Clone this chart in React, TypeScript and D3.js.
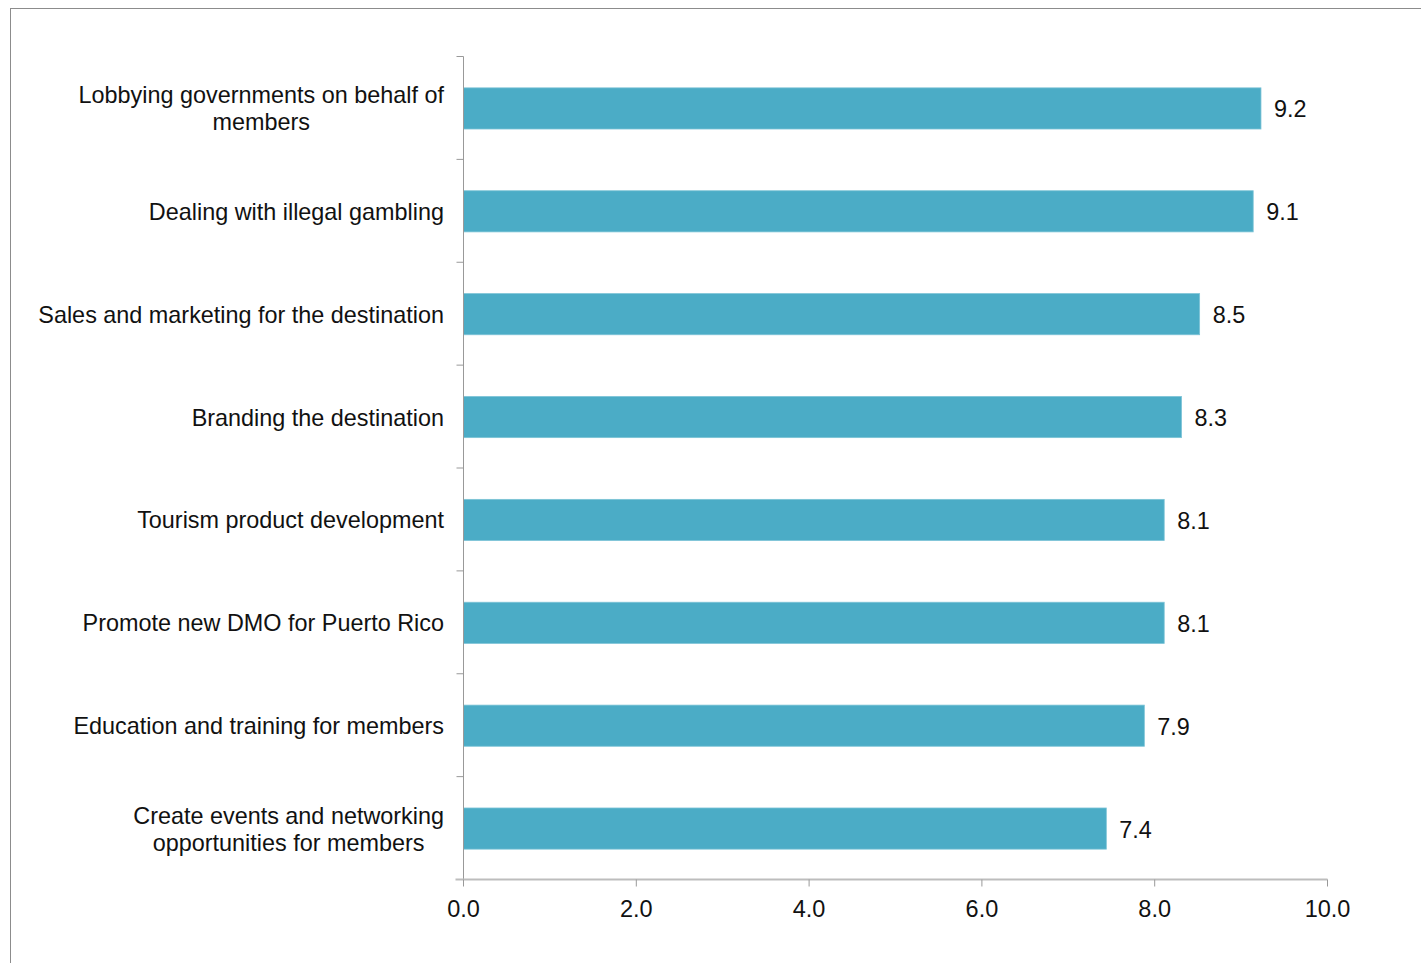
import React, { useEffect, useRef } from "react";
import * as d3 from "d3";

const categories: string[][] = [
  ["Lobbying governments on behalf of", "members"],
  ["Dealing with illegal gambling"],
  ["Sales and marketing for the destination"],
  ["Branding the destination"],
  ["Tourism product development"],
  ["Promote new DMO for Puerto Rico"],
  ["Education and training for members"],
  ["Create events and networking", "opportunities for members"],
];
const values: number[] = [9.23, 9.14, 8.52, 8.31, 8.11, 8.11, 7.88, 7.44];
const xTicks: number[] = [0, 2, 4, 6, 8, 10];

const W = 1421;
const H = 963;
const FONT = "'Liberation Sans', Arial, sans-serif";

export default function App() {
  const ref = useRef<SVGSVGElement>(null);
  useEffect(() => {
    const svg = d3.select(ref.current);
    svg.selectAll("*").remove();
    const left = 463.5, right = 1327.5, top = 56.5, bottom = 879.5;
    const x = d3.scaleLinear().domain([0, 10]).range([left, right]);
    const y = d3.scaleBand<number>().domain(d3.range(categories.length)).range([top, bottom]).paddingInner(0.6).paddingOuter(0.3);
    const band = d3.scaleBand<number>().domain(d3.range(categories.length)).range([top, bottom]);

    svg.append("rect").attr("x", 10.5).attr("y", 8.5).attr("width", W).attr("height", H).attr("fill", "#fff").attr("stroke", "#8c8c8c").attr("stroke-width", 1);

    // bars
    svg.append("g").selectAll("rect").data(values).join("rect")
      .attr("x", x(0)).attr("y", (_, i) => y(i)! + 0.5)
      .attr("width", (d) => x(d) - x(0)).attr("height", y.bandwidth())
      .attr("fill", "#4BACC6").attr("stroke", "#7cc3d6").attr("stroke-width", 0.8);

    // y axis line and ticks
    svg.append("line").attr("x1", left).attr("x2", left).attr("y1", top).attr("y2", bottom).attr("stroke", "#999").attr("stroke-width", 1);
    const bounds = d3.range(categories.length + 1).map((i) => (i < categories.length ? band(i)! : bottom));
    svg.append("g").selectAll("line").data(bounds).join("line")
      .attr("x1", left - 7).attr("x2", left).attr("y1", (d) => d).attr("y2", (d) => d)
      .attr("stroke", "#999").attr("stroke-width", 1);

    // x axis
    svg.append("line").attr("x1", left - 8).attr("x2", right).attr("y1", bottom).attr("y2", bottom).attr("stroke", "#bdbdbd").attr("stroke-width", 2);
    svg.append("g").selectAll("line").data(xTicks).join("line")
      .attr("x1", (d) => x(d)).attr("x2", (d) => x(d)).attr("y1", bottom).attr("y2", bottom + 7)
      .attr("stroke", "#999").attr("stroke-width", 1);
    svg.append("g").selectAll("text").data(xTicks).join("text")
      .attr("x", (d) => x(d)).attr("y", bottom + 37).attr("text-anchor", "middle")
      .attr("font-family", FONT).attr("font-size", 23.5).attr("fill", "#111")
      .text((d) => d3.format(".1f")(d));

    // data labels
    svg.append("g").selectAll("text").data(values).join("text")
      .attr("x", (d) => x(d) + 13).attr("y", (_, i) => y(i)! + y.bandwidth() / 2 + 9.5)
      .attr("font-family", FONT).attr("font-size", 23.4).attr("fill", "#111")
      .text((d) => d3.format(".1f")(d));

    // category labels
    const labelRight = 444;
    const lineH = 27;
    categories.forEach((lines, i) => {
      const cy = band(i)! + band.bandwidth() / 2;
      const g = svg.append("g");
      const texts = lines.map((ln, j) =>
        g.append("text").attr("font-family", FONT).attr("font-size", 23.4).attr("fill", "#111")
          .attr("text-anchor", "middle")
          .attr("y", cy + 9 + (j - (lines.length - 1) / 2) * lineH).text(ln)
      );
      const maxW = d3.max(texts, (t) => (t.node() as SVGTextElement).getComputedTextLength()) || 0;
      texts.forEach((t) => t.attr("x", labelRight - maxW / 2));
    });
  }, []);
  return <svg ref={ref} width={W} height={H} style={{ display: "block", position: "absolute", left: 0, top: 0 }} />;
}
